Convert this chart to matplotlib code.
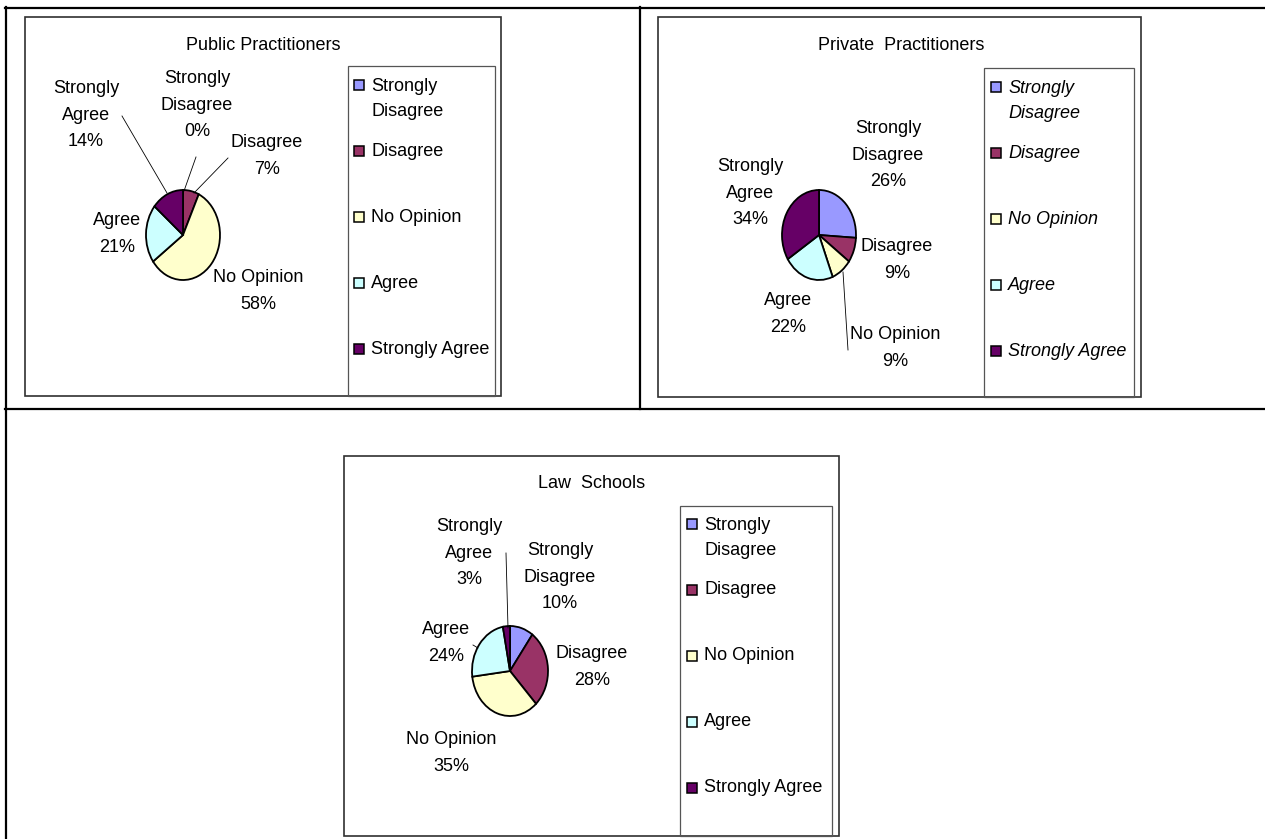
import matplotlib.pyplot as plt
from matplotlib.patches import Rectangle
from matplotlib.lines import Line2D

# figure size in pixels
W, H = 1265, 839

# survey answers, in pie order (clockwise from 12 o'clock)
categories = ['Strongly Disagree', 'Disagree', 'No Opinion', 'Agree', 'Strongly Agree']
slice_names = ['Strongly\nDisagree', 'Disagree', 'No Opinion', 'Agree', 'Strongly\nAgree']
legend_names = ['Strongly\nDisagree', 'Disagree', 'No Opinion', 'Agree', 'Strongly Agree']
colors = ['#9999FF', '#993366', '#FFFFCC', '#CCFFFF', '#660066']

public_pct = [0, 7, 58, 21, 14]
private_pct = [26, 9, 9, 22, 34]
law_pct = [10, 28, 35, 24, 3]

titles = ['Public Practitioners', 'Private  Practitioners', 'Law  Schools']

plt.rcParams['font.family'] = ['Liberation Sans', 'DejaVu Sans']
FS = 13
LS = 1.75

fig = plt.figure(figsize=(W / 100, H / 100), dpi=100)


def fx(x):
    return x / W


def fy(y):
    return 1 - y / H


def frame(x0, y0, x1, y1, color, lw):
    fig.add_artist(Rectangle((fx(x0), fy(y1)), fx(x1) - fx(x0), fy(y0) - fy(y1),
                             transform=fig.transFigure, fill=False,
                             edgecolor=color, linewidth=lw))


def seg(x0, y0, x1, y1, lw, color='black'):
    fig.add_artist(Line2D([fx(x0), fx(x1)], [fy(y0), fy(y1)],
                          transform=fig.transFigure, color=color, linewidth=lw))


def draw_chart(title, pct, box, title_xy, center, radii, label_xy, leaders,
               legend_box, legend_x, legend_y0, italic=False):
    frame(*box, color='#303030', lw=1.2)
    fig.text(fx(title_xy[0]), fy(title_xy[1]), title, ha='center', va='center',
             fontsize=FS)

    # elliptical pie: axes stretched to the slice radii
    cx, cy = center
    rx, ry = radii
    pad = 1.1
    ax = fig.add_axes([fx(cx - rx * pad), fy(cy + ry * pad),
                       2 * rx * pad / W, 2 * ry * pad / H])
    ax.pie(pct, colors=colors, startangle=90, counterclock=False,
           wedgeprops=dict(edgecolor='black', linewidth=1.3))
    ax.set_aspect('auto')
    ax.set_xlim(-pad, pad)
    ax.set_ylim(-pad, pad)
    ax.axis('off')

    for name, v, (x, y) in zip(slice_names, pct, label_xy):
        fig.text(fx(x), fy(y), f'{name}\n{v}%', ha='center', va='center',
                 fontsize=FS, linespacing=LS)
    for (x0, y0), (x1, y1) in leaders:
        seg(x0, y0, x1, y1, lw=0.6)

    # legend
    frame(*legend_box, color='#555555', lw=0.9)
    style = 'italic' if italic else 'normal'
    for i, (name, c) in enumerate(zip(legend_names, colors)):
        y = legend_y0 + i * 66
        fig.add_artist(Rectangle((fx(legend_x - 5), fy(y + 5)), 10 / W, 10 / H,
                                 transform=fig.transFigure, facecolor=c,
                                 edgecolor='black', linewidth=1.1))
        n = name.count('\n')
        fig.text(fx(legend_x + 12), fy(y + n * 14), name, ha='left', va='center',
                 fontsize=FS, linespacing=LS * 0.9, style=style)


# table grid
seg(4.5, 7.5, 1265, 7.5, lw=1.6)
seg(5.5, 7, 5.5, 839, lw=1.6)
seg(640, 7, 640, 409, lw=1.6)
seg(5, 409, 1265, 409, lw=1.6)

draw_chart(titles[0], public_pct,
           box=(25, 17, 501, 396), title_xy=(263, 45),
           center=(183, 235), radii=(37, 45),
           label_xy=[(197, 105), (267, 156), (258, 291), (117, 234), (86, 115)],
           leaders=[((122, 116), (167, 193)), ((196, 157), (184, 191)),
                    ((228, 158), (194, 193))],
           legend_box=(348, 66, 495, 396), legend_x=359, legend_y0=85)

draw_chart(titles[1], private_pct,
           box=(658, 17, 1141, 397), title_xy=(901, 45),
           center=(819, 235), radii=(37, 45),
           label_xy=[(888, 155), (897, 260), (895, 348), (788, 314), (750, 193)],
           leaders=[((843, 272), (848, 350))],
           legend_box=(984, 68, 1134, 397), legend_x=996, legend_y0=87,
           italic=True)

draw_chart(titles[2], law_pct,
           box=(344, 456, 839, 836), title_xy=(592, 483),
           center=(510, 671), radii=(38, 45),
           label_xy=[(560, 577), (592, 667), (451, 753), (446, 643), (469, 553)],
           leaders=[((506, 553), (508, 628)), ((473, 645), (478, 648))],
           legend_box=(680, 506, 832, 836), legend_x=692, legend_y0=524)

fig.savefig('out.png', dpi=100)
